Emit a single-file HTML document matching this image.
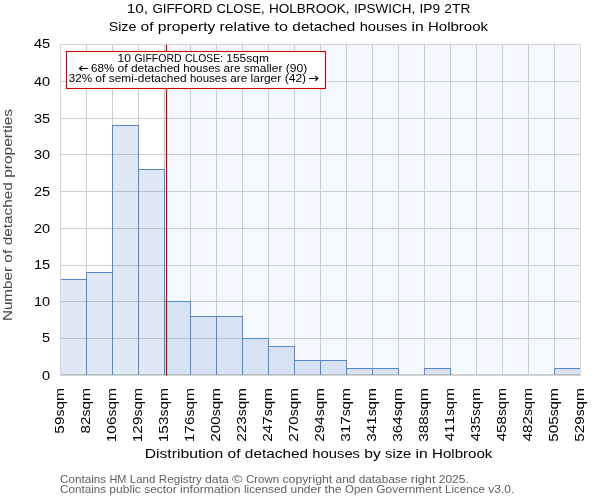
<!DOCTYPE html>
<html><head><meta charset="utf-8"><title>chart</title>
<style>
html,body{margin:0;padding:0;background:#fff;}
body{width:600px;height:500px;overflow:hidden;}
svg{display:block;will-change:transform;}
text{font-family:"Liberation Sans",sans-serif;fill:#000;}
</style></head><body>
<svg width="600" height="500" viewBox="0 0 600 500">
<rect x="0" y="0" width="600" height="500" fill="#ffffff"/>
<rect x="167" y="45" width="413" height="330" fill="#f5f8fe"/>
<g stroke="#cdcdcd" stroke-width="1" fill="none">
<line x1="86.5" y1="45" x2="86.5" y2="375"/><line x1="112.5" y1="45" x2="112.5" y2="375"/><line x1="138.5" y1="45" x2="138.5" y2="375"/><line x1="164.5" y1="45" x2="164.5" y2="375"/><line x1="190.5" y1="45" x2="190.5" y2="375"/><line x1="216.5" y1="45" x2="216.5" y2="375"/><line x1="242.5" y1="45" x2="242.5" y2="375"/><line x1="268.5" y1="45" x2="268.5" y2="375"/><line x1="294.5" y1="45" x2="294.5" y2="375"/><line x1="320.5" y1="45" x2="320.5" y2="375"/><line x1="346.5" y1="45" x2="346.5" y2="375"/><line x1="372.5" y1="45" x2="372.5" y2="375"/><line x1="398.5" y1="45" x2="398.5" y2="375"/><line x1="424.5" y1="45" x2="424.5" y2="375"/><line x1="450.5" y1="45" x2="450.5" y2="375"/><line x1="476.5" y1="45" x2="476.5" y2="375"/><line x1="502.5" y1="45" x2="502.5" y2="375"/><line x1="528.5" y1="45" x2="528.5" y2="375"/><line x1="554.5" y1="45" x2="554.5" y2="375"/><line x1="61" y1="338.5" x2="580" y2="338.5"/><line x1="61" y1="301.5" x2="580" y2="301.5"/><line x1="61" y1="265.5" x2="580" y2="265.5"/><line x1="61" y1="228.5" x2="580" y2="228.5"/><line x1="61" y1="191.5" x2="580" y2="191.5"/><line x1="61" y1="154.5" x2="580" y2="154.5"/><line x1="61" y1="118.5" x2="580" y2="118.5"/><line x1="61" y1="81.5" x2="580" y2="81.5"/></g>
<line x1="60" y1="374.5" x2="581" y2="374.5" stroke="#cacaca" stroke-width="1"/>
<g fill="rgb(95,145,205)" fill-opacity="0.2" stroke="none">
<rect x="61" y="279.5" width="25.5" height="95.5"/><rect x="86.5" y="272.5" width="26.0" height="102.5"/><rect x="112.5" y="125.5" width="26.0" height="249.5"/><rect x="138.5" y="169.5" width="26.0" height="205.5"/><rect x="164.5" y="301.5" width="26.0" height="73.5"/><rect x="190.5" y="316.5" width="26.0" height="58.5"/><rect x="216.5" y="316.5" width="26.0" height="58.5"/><rect x="242.5" y="338.5" width="26.0" height="36.5"/><rect x="268.5" y="346.5" width="26.0" height="28.5"/><rect x="294.5" y="360.5" width="26.0" height="14.5"/><rect x="320.5" y="360.5" width="26.0" height="14.5"/><rect x="346.5" y="368.5" width="26.0" height="6.5"/><rect x="372.5" y="368.5" width="26.0" height="6.5"/><rect x="424.5" y="368.5" width="26.0" height="6.5"/><rect x="554.5" y="368.5" width="25.5" height="6.5"/></g>
<g stroke="#d6d6d6" stroke-width="1" fill="none"><line x1="60.5" y1="44" x2="60.5" y2="376"/><line x1="580.5" y1="44" x2="580.5" y2="376"/><line x1="60" y1="44.5" x2="581" y2="44.5"/><line x1="60" y1="375.5" x2="581" y2="375.5" stroke="#d4d4d4"/></g>
<g stroke="#5686cd" stroke-width="1" fill="none">
<line x1="61" y1="279.5" x2="87.0" y2="279.5"/><line x1="86.5" y1="279.0" x2="86.5" y2="375"/><line x1="86.0" y1="272.5" x2="113.0" y2="272.5"/><line x1="86.5" y1="272.0" x2="86.5" y2="375"/><line x1="112.5" y1="272.0" x2="112.5" y2="375"/><line x1="112.0" y1="125.5" x2="139.0" y2="125.5"/><line x1="112.5" y1="125.0" x2="112.5" y2="375"/><line x1="138.5" y1="125.0" x2="138.5" y2="375"/><line x1="138.0" y1="169.5" x2="165.0" y2="169.5"/><line x1="138.5" y1="169.0" x2="138.5" y2="375"/><line x1="164.5" y1="169.0" x2="164.5" y2="375"/><line x1="164.0" y1="301.5" x2="191.0" y2="301.5"/><line x1="164.5" y1="301.0" x2="164.5" y2="375"/><line x1="190.5" y1="301.0" x2="190.5" y2="375"/><line x1="190.0" y1="316.5" x2="217.0" y2="316.5"/><line x1="190.5" y1="316.0" x2="190.5" y2="375"/><line x1="216.5" y1="316.0" x2="216.5" y2="375"/><line x1="216.0" y1="316.5" x2="243.0" y2="316.5"/><line x1="216.5" y1="316.0" x2="216.5" y2="375"/><line x1="242.5" y1="316.0" x2="242.5" y2="375"/><line x1="242.0" y1="338.5" x2="269.0" y2="338.5"/><line x1="242.5" y1="338.0" x2="242.5" y2="375"/><line x1="268.5" y1="338.0" x2="268.5" y2="375"/><line x1="268.0" y1="346.5" x2="295.0" y2="346.5"/><line x1="268.5" y1="346.0" x2="268.5" y2="375"/><line x1="294.5" y1="346.0" x2="294.5" y2="375"/><line x1="294.0" y1="360.5" x2="321.0" y2="360.5"/><line x1="294.5" y1="360.0" x2="294.5" y2="375"/><line x1="320.5" y1="360.0" x2="320.5" y2="375"/><line x1="320.0" y1="360.5" x2="347.0" y2="360.5"/><line x1="320.5" y1="360.0" x2="320.5" y2="375"/><line x1="346.5" y1="360.0" x2="346.5" y2="375"/><line x1="346.0" y1="368.5" x2="373.0" y2="368.5"/><line x1="346.5" y1="368.0" x2="346.5" y2="375"/><line x1="372.5" y1="368.0" x2="372.5" y2="375"/><line x1="372.0" y1="368.5" x2="399.0" y2="368.5"/><line x1="372.5" y1="368.0" x2="372.5" y2="375"/><line x1="398.5" y1="368.0" x2="398.5" y2="375"/><line x1="424.0" y1="368.5" x2="451.0" y2="368.5"/><line x1="424.5" y1="368.0" x2="424.5" y2="375"/><line x1="450.5" y1="368.0" x2="450.5" y2="375"/><line x1="554.0" y1="368.5" x2="580" y2="368.5"/><line x1="554.5" y1="368.0" x2="554.5" y2="375"/></g>
<line x1="166.5" y1="44.7" x2="166.5" y2="375.8" stroke="#cc0000" stroke-width="1.2"/>
<rect x="66.5" y="51.5" width="259" height="37" fill="#ffffff" stroke="#cc0000" stroke-width="1.1"/>
<g font-size="10.6"><text x="117.64" y="62" textLength="13.41" lengthAdjust="spacingAndGlyphs">10</text><text x="134.41" y="62" textLength="47.15" lengthAdjust="spacingAndGlyphs">GIFFORD</text><text x="184.91" y="62" textLength="38.06" lengthAdjust="spacingAndGlyphs">CLOSE:</text><text x="226.32" y="62" textLength="42.58" lengthAdjust="spacingAndGlyphs">155sqm</text></g>
<g font-size="10.6"><text x="91.02" y="72" textLength="23.24" lengthAdjust="spacingAndGlyphs">68%</text><text x="117.58" y="72" textLength="10.08" lengthAdjust="spacingAndGlyphs">of</text><text x="130.98" y="72" textLength="49.01" lengthAdjust="spacingAndGlyphs">detached</text><text x="183.32" y="72" textLength="36.97" lengthAdjust="spacingAndGlyphs">houses</text><text x="223.61" y="72" textLength="16.91" lengthAdjust="spacingAndGlyphs">are</text><text x="243.84" y="72" textLength="38.58" lengthAdjust="spacingAndGlyphs">smaller</text><text x="285.74" y="72" textLength="21.46" lengthAdjust="spacingAndGlyphs">(90)</text></g>
<g font-size="10.6"><text x="68.80" y="82" textLength="23.26" lengthAdjust="spacingAndGlyphs">32%</text><text x="95.39" y="82" textLength="10.09" lengthAdjust="spacingAndGlyphs">of</text><text x="108.80" y="82" textLength="77.82" lengthAdjust="spacingAndGlyphs">semi-detached</text><text x="189.95" y="82" textLength="37.01" lengthAdjust="spacingAndGlyphs">houses</text><text x="230.28" y="82" textLength="16.92" lengthAdjust="spacingAndGlyphs">are</text><text x="250.53" y="82" textLength="30.82" lengthAdjust="spacingAndGlyphs">larger</text><text x="284.67" y="82" textLength="21.48" lengthAdjust="spacingAndGlyphs">(42)</text></g>
<g fill="none" stroke="#000" stroke-width="1.05"><path d="M87.8 68.45H79.7M82.1 66L79.4 68.45L82.1 70.9"/><path d="M309.2 78.45H317.6M315.2 76L317.9 78.45L315.2 80.9"/></g>
<g font-size="13.6"><text x="126.83" y="13.1" textLength="21.30" lengthAdjust="spacingAndGlyphs">10,</text><text x="152.39" y="13.1" textLength="59.91" lengthAdjust="spacingAndGlyphs">GIFFORD</text><text x="216.56" y="13.1" textLength="48.11" lengthAdjust="spacingAndGlyphs">CLOSE,</text><text x="268.92" y="13.1" textLength="80.71" lengthAdjust="spacingAndGlyphs">HOLBROOK,</text><text x="353.89" y="13.1" textLength="61.41" lengthAdjust="spacingAndGlyphs">IPSWICH,</text><text x="419.56" y="13.1" textLength="20.55" lengthAdjust="spacingAndGlyphs">IP9</text><text x="444.37" y="13.1" textLength="26.01" lengthAdjust="spacingAndGlyphs">2TR</text></g>
<g font-size="13.6"><text x="108.71" y="30.9" textLength="27.59" lengthAdjust="spacingAndGlyphs">Size</text><text x="140.58" y="30.9" textLength="12.96" lengthAdjust="spacingAndGlyphs">of</text><text x="157.81" y="30.9" textLength="57.54" lengthAdjust="spacingAndGlyphs">property</text><text x="219.62" y="30.9" textLength="50.70" lengthAdjust="spacingAndGlyphs">relative</text><text x="274.59" y="30.9" textLength="13.49" lengthAdjust="spacingAndGlyphs">to</text><text x="292.36" y="30.9" textLength="63.02" lengthAdjust="spacingAndGlyphs">detached</text><text x="359.65" y="30.9" textLength="47.54" lengthAdjust="spacingAndGlyphs">houses</text><text x="411.45" y="30.9" textLength="12.25" lengthAdjust="spacingAndGlyphs">in</text><text x="427.98" y="30.9" textLength="60.06" lengthAdjust="spacingAndGlyphs">Holbrook</text></g>
<g font-size="13.6" text-anchor="end">
<text x="50.2" y="379.70" textLength="8.10" lengthAdjust="spacingAndGlyphs">0</text><text x="50.2" y="341.90" textLength="8.10" lengthAdjust="spacingAndGlyphs">5</text><text x="50.2" y="305.70" textLength="16.20" lengthAdjust="spacingAndGlyphs">10</text><text x="50.2" y="268.70" textLength="16.20" lengthAdjust="spacingAndGlyphs">15</text><text x="50.2" y="232.70" textLength="16.20" lengthAdjust="spacingAndGlyphs">20</text><text x="50.2" y="195.70" textLength="16.20" lengthAdjust="spacingAndGlyphs">25</text><text x="50.2" y="158.70" textLength="16.20" lengthAdjust="spacingAndGlyphs">30</text><text x="50.2" y="122.70" textLength="16.20" lengthAdjust="spacingAndGlyphs">35</text><text x="50.2" y="85.70" textLength="16.20" lengthAdjust="spacingAndGlyphs">40</text><text x="50.2" y="47.70" textLength="16.20" lengthAdjust="spacingAndGlyphs">45</text></g>
<g font-size="13.6" transform="translate(12,319.8) rotate(-90)" style="fill:#444444"><text x="-1.32" y="0" textLength="54.20" lengthAdjust="spacingAndGlyphs" style="fill:#444444">Number</text><text x="57.16" y="0" textLength="13.00" lengthAdjust="spacingAndGlyphs" style="fill:#444444">of</text><text x="74.46" y="0" textLength="63.26" lengthAdjust="spacingAndGlyphs" style="fill:#444444">detached</text><text x="142.01" y="0" textLength="68.85" lengthAdjust="spacingAndGlyphs" style="fill:#444444">properties</text></g>
<g font-size="13.6">
<g transform="translate(63.8,432.6) rotate(-90)"><text x="-1.04" y="0" textLength="8.54" lengthAdjust="spacingAndGlyphs">5</text><text x="7.51" y="0" textLength="8.54" lengthAdjust="spacingAndGlyphs">9</text><text x="16.05" y="0" textLength="6.99" lengthAdjust="spacingAndGlyphs">s</text><text x="23.04" y="0" textLength="8.52" lengthAdjust="spacingAndGlyphs">q</text><text x="31.56" y="0" textLength="13.08" lengthAdjust="spacingAndGlyphs">m</text></g><g transform="translate(89.8,432.6) rotate(-90)"><text x="-0.91" y="0" textLength="8.52" lengthAdjust="spacingAndGlyphs">8</text><text x="7.61" y="0" textLength="8.52" lengthAdjust="spacingAndGlyphs">2</text><text x="16.13" y="0" textLength="6.97" lengthAdjust="spacingAndGlyphs">s</text><text x="23.10" y="0" textLength="8.50" lengthAdjust="spacingAndGlyphs">q</text><text x="31.60" y="0" textLength="13.04" lengthAdjust="spacingAndGlyphs">m</text></g><g transform="translate(115.8,440.70000000000005) rotate(-90)"><text x="-1.47" y="0" textLength="8.54" lengthAdjust="spacingAndGlyphs">1</text><text x="7.07" y="0" textLength="8.54" lengthAdjust="spacingAndGlyphs">0</text><text x="15.61" y="0" textLength="8.54" lengthAdjust="spacingAndGlyphs">6</text><text x="24.15" y="0" textLength="6.99" lengthAdjust="spacingAndGlyphs">s</text><text x="31.14" y="0" textLength="8.52" lengthAdjust="spacingAndGlyphs">q</text><text x="39.66" y="0" textLength="13.08" lengthAdjust="spacingAndGlyphs">m</text></g><g transform="translate(141.8,440.70000000000005) rotate(-90)"><text x="-1.47" y="0" textLength="8.54" lengthAdjust="spacingAndGlyphs">1</text><text x="7.07" y="0" textLength="8.54" lengthAdjust="spacingAndGlyphs">2</text><text x="15.61" y="0" textLength="8.54" lengthAdjust="spacingAndGlyphs">9</text><text x="24.15" y="0" textLength="6.99" lengthAdjust="spacingAndGlyphs">s</text><text x="31.14" y="0" textLength="8.52" lengthAdjust="spacingAndGlyphs">q</text><text x="39.66" y="0" textLength="13.08" lengthAdjust="spacingAndGlyphs">m</text></g><g transform="translate(167.8,440.70000000000005) rotate(-90)"><text x="-1.47" y="0" textLength="8.54" lengthAdjust="spacingAndGlyphs">1</text><text x="7.07" y="0" textLength="8.54" lengthAdjust="spacingAndGlyphs">5</text><text x="15.61" y="0" textLength="8.54" lengthAdjust="spacingAndGlyphs">3</text><text x="24.15" y="0" textLength="6.99" lengthAdjust="spacingAndGlyphs">s</text><text x="31.14" y="0" textLength="8.52" lengthAdjust="spacingAndGlyphs">q</text><text x="39.66" y="0" textLength="13.08" lengthAdjust="spacingAndGlyphs">m</text></g><g transform="translate(193.8,440.70000000000005) rotate(-90)"><text x="-1.47" y="0" textLength="8.54" lengthAdjust="spacingAndGlyphs">1</text><text x="7.07" y="0" textLength="8.54" lengthAdjust="spacingAndGlyphs">7</text><text x="15.61" y="0" textLength="8.54" lengthAdjust="spacingAndGlyphs">6</text><text x="24.15" y="0" textLength="6.99" lengthAdjust="spacingAndGlyphs">s</text><text x="31.14" y="0" textLength="8.52" lengthAdjust="spacingAndGlyphs">q</text><text x="39.66" y="0" textLength="13.08" lengthAdjust="spacingAndGlyphs">m</text></g><g transform="translate(219.8,440.70000000000005) rotate(-90)"><text x="-0.97" y="0" textLength="8.46" lengthAdjust="spacingAndGlyphs">2</text><text x="7.49" y="0" textLength="8.46" lengthAdjust="spacingAndGlyphs">0</text><text x="15.95" y="0" textLength="8.46" lengthAdjust="spacingAndGlyphs">0</text><text x="24.41" y="0" textLength="6.93" lengthAdjust="spacingAndGlyphs">s</text><text x="31.34" y="0" textLength="8.44" lengthAdjust="spacingAndGlyphs">q</text><text x="39.78" y="0" textLength="12.95" lengthAdjust="spacingAndGlyphs">m</text></g><g transform="translate(245.8,440.70000000000005) rotate(-90)"><text x="-0.97" y="0" textLength="8.46" lengthAdjust="spacingAndGlyphs">2</text><text x="7.49" y="0" textLength="8.46" lengthAdjust="spacingAndGlyphs">2</text><text x="15.95" y="0" textLength="8.46" lengthAdjust="spacingAndGlyphs">3</text><text x="24.41" y="0" textLength="6.93" lengthAdjust="spacingAndGlyphs">s</text><text x="31.34" y="0" textLength="8.44" lengthAdjust="spacingAndGlyphs">q</text><text x="39.78" y="0" textLength="12.95" lengthAdjust="spacingAndGlyphs">m</text></g><g transform="translate(271.8,440.70000000000005) rotate(-90)"><text x="-0.97" y="0" textLength="8.46" lengthAdjust="spacingAndGlyphs">2</text><text x="7.49" y="0" textLength="8.46" lengthAdjust="spacingAndGlyphs">4</text><text x="15.95" y="0" textLength="8.46" lengthAdjust="spacingAndGlyphs">7</text><text x="24.41" y="0" textLength="6.93" lengthAdjust="spacingAndGlyphs">s</text><text x="31.34" y="0" textLength="8.44" lengthAdjust="spacingAndGlyphs">q</text><text x="39.78" y="0" textLength="12.95" lengthAdjust="spacingAndGlyphs">m</text></g><g transform="translate(297.8,440.70000000000005) rotate(-90)"><text x="-0.97" y="0" textLength="8.46" lengthAdjust="spacingAndGlyphs">2</text><text x="7.49" y="0" textLength="8.46" lengthAdjust="spacingAndGlyphs">7</text><text x="15.95" y="0" textLength="8.46" lengthAdjust="spacingAndGlyphs">0</text><text x="24.41" y="0" textLength="6.93" lengthAdjust="spacingAndGlyphs">s</text><text x="31.34" y="0" textLength="8.44" lengthAdjust="spacingAndGlyphs">q</text><text x="39.78" y="0" textLength="12.95" lengthAdjust="spacingAndGlyphs">m</text></g><g transform="translate(323.8,440.70000000000005) rotate(-90)"><text x="-0.97" y="0" textLength="8.46" lengthAdjust="spacingAndGlyphs">2</text><text x="7.49" y="0" textLength="8.46" lengthAdjust="spacingAndGlyphs">9</text><text x="15.95" y="0" textLength="8.46" lengthAdjust="spacingAndGlyphs">4</text><text x="24.41" y="0" textLength="6.93" lengthAdjust="spacingAndGlyphs">s</text><text x="31.34" y="0" textLength="8.44" lengthAdjust="spacingAndGlyphs">q</text><text x="39.78" y="0" textLength="12.95" lengthAdjust="spacingAndGlyphs">m</text></g><g transform="translate(349.8,440.70000000000005) rotate(-90)"><text x="-1.01" y="0" textLength="8.47" lengthAdjust="spacingAndGlyphs">3</text><text x="7.45" y="0" textLength="8.47" lengthAdjust="spacingAndGlyphs">1</text><text x="15.92" y="0" textLength="8.47" lengthAdjust="spacingAndGlyphs">7</text><text x="24.39" y="0" textLength="6.93" lengthAdjust="spacingAndGlyphs">s</text><text x="31.32" y="0" textLength="8.45" lengthAdjust="spacingAndGlyphs">q</text><text x="39.77" y="0" textLength="12.96" lengthAdjust="spacingAndGlyphs">m</text></g><g transform="translate(375.8,440.70000000000005) rotate(-90)"><text x="-1.01" y="0" textLength="8.47" lengthAdjust="spacingAndGlyphs">3</text><text x="7.45" y="0" textLength="8.47" lengthAdjust="spacingAndGlyphs">4</text><text x="15.92" y="0" textLength="8.47" lengthAdjust="spacingAndGlyphs">1</text><text x="24.39" y="0" textLength="6.93" lengthAdjust="spacingAndGlyphs">s</text><text x="31.32" y="0" textLength="8.45" lengthAdjust="spacingAndGlyphs">q</text><text x="39.77" y="0" textLength="12.96" lengthAdjust="spacingAndGlyphs">m</text></g><g transform="translate(401.8,440.70000000000005) rotate(-90)"><text x="-1.01" y="0" textLength="8.47" lengthAdjust="spacingAndGlyphs">3</text><text x="7.45" y="0" textLength="8.47" lengthAdjust="spacingAndGlyphs">6</text><text x="15.92" y="0" textLength="8.47" lengthAdjust="spacingAndGlyphs">4</text><text x="24.39" y="0" textLength="6.93" lengthAdjust="spacingAndGlyphs">s</text><text x="31.32" y="0" textLength="8.45" lengthAdjust="spacingAndGlyphs">q</text><text x="39.77" y="0" textLength="12.96" lengthAdjust="spacingAndGlyphs">m</text></g><g transform="translate(427.8,440.70000000000005) rotate(-90)"><text x="-1.01" y="0" textLength="8.47" lengthAdjust="spacingAndGlyphs">3</text><text x="7.45" y="0" textLength="8.47" lengthAdjust="spacingAndGlyphs">8</text><text x="15.92" y="0" textLength="8.47" lengthAdjust="spacingAndGlyphs">8</text><text x="24.39" y="0" textLength="6.93" lengthAdjust="spacingAndGlyphs">s</text><text x="31.32" y="0" textLength="8.45" lengthAdjust="spacingAndGlyphs">q</text><text x="39.77" y="0" textLength="12.96" lengthAdjust="spacingAndGlyphs">m</text></g><g transform="translate(453.8,440.70000000000005) rotate(-90)"><text x="-0.65" y="0" textLength="8.41" lengthAdjust="spacingAndGlyphs">4</text><text x="7.76" y="0" textLength="8.41" lengthAdjust="spacingAndGlyphs">1</text><text x="16.17" y="0" textLength="8.41" lengthAdjust="spacingAndGlyphs">1</text><text x="24.58" y="0" textLength="6.88" lengthAdjust="spacingAndGlyphs">s</text><text x="31.46" y="0" textLength="8.39" lengthAdjust="spacingAndGlyphs">q</text><text x="39.85" y="0" textLength="12.87" lengthAdjust="spacingAndGlyphs">m</text></g><g transform="translate(479.8,440.70000000000005) rotate(-90)"><text x="-0.65" y="0" textLength="8.41" lengthAdjust="spacingAndGlyphs">4</text><text x="7.76" y="0" textLength="8.41" lengthAdjust="spacingAndGlyphs">3</text><text x="16.17" y="0" textLength="8.41" lengthAdjust="spacingAndGlyphs">5</text><text x="24.58" y="0" textLength="6.88" lengthAdjust="spacingAndGlyphs">s</text><text x="31.46" y="0" textLength="8.39" lengthAdjust="spacingAndGlyphs">q</text><text x="39.85" y="0" textLength="12.87" lengthAdjust="spacingAndGlyphs">m</text></g><g transform="translate(505.8,440.70000000000005) rotate(-90)"><text x="-0.65" y="0" textLength="8.41" lengthAdjust="spacingAndGlyphs">4</text><text x="7.76" y="0" textLength="8.41" lengthAdjust="spacingAndGlyphs">5</text><text x="16.17" y="0" textLength="8.41" lengthAdjust="spacingAndGlyphs">8</text><text x="24.58" y="0" textLength="6.88" lengthAdjust="spacingAndGlyphs">s</text><text x="31.46" y="0" textLength="8.39" lengthAdjust="spacingAndGlyphs">q</text><text x="39.85" y="0" textLength="12.87" lengthAdjust="spacingAndGlyphs">m</text></g><g transform="translate(531.8,440.70000000000005) rotate(-90)"><text x="-0.65" y="0" textLength="8.41" lengthAdjust="spacingAndGlyphs">4</text><text x="7.76" y="0" textLength="8.41" lengthAdjust="spacingAndGlyphs">8</text><text x="16.17" y="0" textLength="8.41" lengthAdjust="spacingAndGlyphs">2</text><text x="24.58" y="0" textLength="6.88" lengthAdjust="spacingAndGlyphs">s</text><text x="31.46" y="0" textLength="8.39" lengthAdjust="spacingAndGlyphs">q</text><text x="39.85" y="0" textLength="12.87" lengthAdjust="spacingAndGlyphs">m</text></g><g transform="translate(557.8,440.70000000000005) rotate(-90)"><text x="-1.03" y="0" textLength="8.47" lengthAdjust="spacingAndGlyphs">5</text><text x="7.44" y="0" textLength="8.47" lengthAdjust="spacingAndGlyphs">0</text><text x="15.91" y="0" textLength="8.47" lengthAdjust="spacingAndGlyphs">5</text><text x="24.38" y="0" textLength="6.94" lengthAdjust="spacingAndGlyphs">s</text><text x="31.31" y="0" textLength="8.45" lengthAdjust="spacingAndGlyphs">q</text><text x="39.76" y="0" textLength="12.97" lengthAdjust="spacingAndGlyphs">m</text></g><g transform="translate(583.8,440.70000000000005) rotate(-90)"><text x="-1.03" y="0" textLength="8.47" lengthAdjust="spacingAndGlyphs">5</text><text x="7.44" y="0" textLength="8.47" lengthAdjust="spacingAndGlyphs">2</text><text x="15.91" y="0" textLength="8.47" lengthAdjust="spacingAndGlyphs">9</text><text x="24.38" y="0" textLength="6.94" lengthAdjust="spacingAndGlyphs">s</text><text x="31.31" y="0" textLength="8.45" lengthAdjust="spacingAndGlyphs">q</text><text x="39.76" y="0" textLength="12.97" lengthAdjust="spacingAndGlyphs">m</text></g></g>
<g font-size="13.6"><text x="144.68" y="457.7" textLength="78.63" lengthAdjust="spacingAndGlyphs">Distribution</text><text x="227.60" y="457.7" textLength="12.99" lengthAdjust="spacingAndGlyphs">of</text><text x="244.87" y="457.7" textLength="63.19" lengthAdjust="spacingAndGlyphs">detached</text><text x="312.35" y="457.7" textLength="47.67" lengthAdjust="spacingAndGlyphs">houses</text><text x="364.30" y="457.7" textLength="16.53" lengthAdjust="spacingAndGlyphs">by</text><text x="385.12" y="457.7" textLength="26.13" lengthAdjust="spacingAndGlyphs">size</text><text x="415.54" y="457.7" textLength="12.29" lengthAdjust="spacingAndGlyphs">in</text><text x="432.11" y="457.7" textLength="60.23" lengthAdjust="spacingAndGlyphs">Holbrook</text></g>
<g font-size="10.6" style="fill:#5f5f5f"><text x="60.11" y="483" textLength="46.04" lengthAdjust="spacingAndGlyphs" style="fill:#5f5f5f">Contains</text><text x="109.49" y="483" textLength="16.97" lengthAdjust="spacingAndGlyphs" style="fill:#5f5f5f">HM</text><text x="129.80" y="483" textLength="25.62" lengthAdjust="spacingAndGlyphs" style="fill:#5f5f5f">Land</text><text x="158.76" y="483" textLength="43.02" lengthAdjust="spacingAndGlyphs" style="fill:#5f5f5f">Registry</text><text x="205.12" y="483" textLength="23.67" lengthAdjust="spacingAndGlyphs" style="fill:#5f5f5f">data</text><text x="232.13" y="483" textLength="10.51" lengthAdjust="spacingAndGlyphs" style="fill:#5f5f5f">©</text><text x="245.98" y="483" textLength="33.11" lengthAdjust="spacingAndGlyphs" style="fill:#5f5f5f">Crown</text><text x="282.43" y="483" textLength="49.79" lengthAdjust="spacingAndGlyphs" style="fill:#5f5f5f">copyright</text><text x="335.55" y="483" textLength="19.77" lengthAdjust="spacingAndGlyphs" style="fill:#5f5f5f">and</text><text x="358.66" y="483" textLength="48.72" lengthAdjust="spacingAndGlyphs" style="fill:#5f5f5f">database</text><text x="410.72" y="483" textLength="24.69" lengthAdjust="spacingAndGlyphs" style="fill:#5f5f5f">right</text><text x="438.75" y="483" textLength="30.08" lengthAdjust="spacingAndGlyphs" style="fill:#5f5f5f">2025.</text></g>
<g font-size="10.6" style="fill:#5f5f5f"><text x="60.11" y="493" textLength="45.93" lengthAdjust="spacingAndGlyphs" style="fill:#5f5f5f">Contains</text><text x="109.37" y="493" textLength="31.54" lengthAdjust="spacingAndGlyphs" style="fill:#5f5f5f">public</text><text x="144.24" y="493" textLength="32.51" lengthAdjust="spacingAndGlyphs" style="fill:#5f5f5f">sector</text><text x="180.08" y="493" textLength="60.50" lengthAdjust="spacingAndGlyphs" style="fill:#5f5f5f">information</text><text x="243.90" y="493" textLength="43.24" lengthAdjust="spacingAndGlyphs" style="fill:#5f5f5f">licensed</text><text x="290.48" y="493" textLength="30.70" lengthAdjust="spacingAndGlyphs" style="fill:#5f5f5f">under</text><text x="324.51" y="493" textLength="17.20" lengthAdjust="spacingAndGlyphs" style="fill:#5f5f5f">the</text><text x="345.05" y="493" textLength="28.00" lengthAdjust="spacingAndGlyphs" style="fill:#5f5f5f">Open</text><text x="376.37" y="493" textLength="65.37" lengthAdjust="spacingAndGlyphs" style="fill:#5f5f5f">Government</text><text x="445.07" y="493" textLength="39.82" lengthAdjust="spacingAndGlyphs" style="fill:#5f5f5f">Licence</text><text x="488.23" y="493" textLength="26.21" lengthAdjust="spacingAndGlyphs" style="fill:#5f5f5f">v3.0.</text></g>
</svg>
</body></html>
